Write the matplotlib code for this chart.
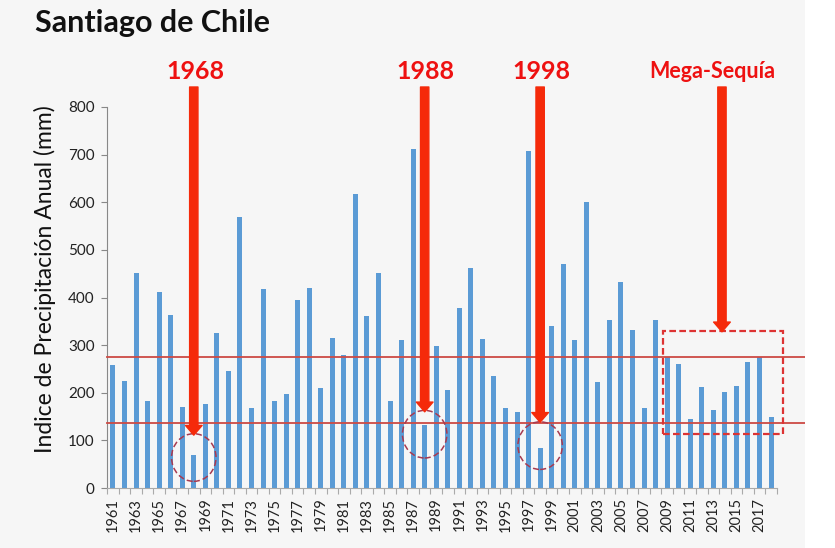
import matplotlib
matplotlib.use("Agg")
import matplotlib.pyplot as plt
from matplotlib.patches import Ellipse, Rectangle
import numpy as np

years = list(range(1961, 2019))
precip = [258, 225, 451, 183, 412, 363, 171, 69, 177, 326,
          246, 569, 169, 417, 183, 198, 395, 419, 210, 316,
          279, 618, 361, 451, 183, 310, 711, 132, 298, 205,
          377, 461, 313, 236, 169, 160, 708, 85, 341, 471,
          310, 600, 223, 352, 432, 332, 168, 352, 276, 261,
          144, 212, 164, 202, 215, 265, 276, 150]
ref_lines = [276, 136]
events = [("1968", 1968, 111), ("1988", 1988, 160), ("1998", 1998, 138)]
circles = [(1968, 64), (1988, 113), (1998, 89)]

plt.rcParams['font.family'] = ['Lato', 'DejaVu Sans']

W, H = 835, 548
fig = plt.figure(figsize=(W / 100, H / 100), dpi=100)
fig.patch.set_facecolor('#f6f6f6')
fig.patches.append(Rectangle((805 / W, 0), 30 / W, 1, transform=fig.transFigure,
                             facecolor='white', edgecolor='none', zorder=0))

ax = fig.add_axes([107.2 / W, (H - 488) / H, (776.8 - 107.2) / W, (488 - 107) / H])
ax.set_facecolor('none')

x = np.arange(len(years))
ax.bar(x, precip, width=0.43, color='#5b9bd5', zorder=2)

ax.set_xlim(-0.5, len(years) - 0.5)
ax.set_ylim(0, 800)
ax.set_yticks(range(0, 801, 100))
ax.tick_params(axis='y', labelsize=11, labelcolor='#222222', length=4, width=0.8,
               color='#888888', pad=5)

# x ticks
ax.set_xticks(x[::2])
ax.set_xticklabels([str(y) for y in years[::2]], rotation=90, fontsize=10.5, color='#222222')
ax.tick_params(axis='x', which='major', length=0, pad=7)
ax.set_xticks(np.arange(-0.5, len(years), 1), minor=True)
ax.tick_params(axis='x', which='minor', length=4, width=0.8, color='#aaaaaa')

for s in ['top', 'right']:
    ax.spines[s].set_visible(False)
ax.spines['left'].set_color('#888888')
ax.spines['bottom'].set_color('#aaaaaa')

fig.text(45 / W, 1 - 279 / H, 'Indice de Precipitación Anual (mm)', fontsize=16.5,
         color='#111111', rotation=90, ha='center', va='center')

# reference lines
for v in ref_lines:
    ax.plot([-0.5, 62.7], [v, v], color='#cc4a44', lw=1.3, clip_on=False, zorder=3)

# circles
for yr, cy in circles:
    i = years.index(yr)
    ax.add_patch(Ellipse((i, cy), width=3.85, height=100, fill=False,
                         edgecolor='#a83a50', lw=1.1, ls=(0, (4, 2)), clip_on=False, zorder=4))

# dashed rectangle
ax.add_patch(Rectangle((47.63, 113), 58.0 - 47.63, 330 - 113, fill=False,
                       edgecolor='#dd3333', lw=1.6, ls=(0, (3, 1.5)), clip_on=False, zorder=4))

arrow_color = '#f52a0a'
label_y = 874
def arrow(xi, ytip):
    ax.annotate('', xy=(xi, ytip), xytext=(xi, 842),
                arrowprops=dict(arrowstyle='simple,head_width=12,head_length=7,tail_width=6',
                                mutation_scale=1, color=arrow_color, shrinkA=0, shrinkB=0),
                annotation_clip=False, zorder=5)

for lab, yr, tip in events:
    i = years.index(yr)
    arrow(i, tip)
    ax.text(i + 0.1, label_y, lab, ha='center', va='center', fontsize=18,
            fontweight='bold', color='#ee1111', clip_on=False)

arrow(52.75, 328)
ax.text(51.9, label_y, 'Mega-Sequía', ha='center', va='center', fontsize=15.5,
        fontweight='bold', color='#ee1111', clip_on=False)

fig.text(35 / W, 1 - 23 / H, 'Santiago de Chile', fontsize=22, fontweight='bold',
         color='#111111', ha='left', va='center')

fig.savefig('out.png', dpi=100, facecolor=fig.get_facecolor())
